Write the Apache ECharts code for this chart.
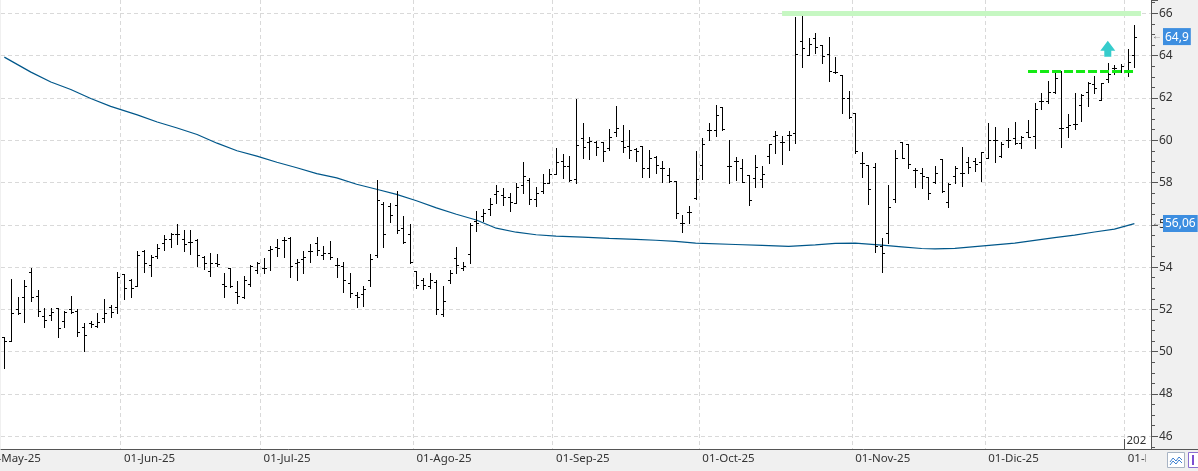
<!DOCTYPE html>
<html>
<head>
<meta charset="utf-8">
<title>Cotización diaria</title>
<script src="https://cdn.jsdelivr.net/npm/echarts@6.0.0/dist/echarts.min.js"></script>
<style>
  html, body { margin: 0; padding: 0; background: #f0f0f0; }
  #chart { width: 1198px; height: 471px; }
</style>
</head>
<body>
<div id="chart"></div>
<script type="text/javascript">
// sesiones: dias laborables desde el 7 de mayo, sin festivos de bolsa
var holidays = ['2025-12-25', '2025-12-26', '2026-01-01'];
var monthNames = ['Ene', 'Feb', 'Mar', 'Abr', 'May', 'Jun', 'Jul', 'Ago', 'Sep', 'Oct', 'Nov', 'Dic'];
var firstLabel = '01-May-25';   // mes anterior, cortado por el borde
var sessionCount = 173;         // 171 barras + 2 huecos al final

// barras OHLC (una por sesion)
var opens = [
  50.68, 50.49, 52.0, 52.57, 53.76, 52.64, 51.69, 51.74, 52.05, 51.44,
  52.0, 51.93, 51.15, 51.38, 51.22, 51.58, 52.13, 52.1, 53.66, 53.39,
  53.11, 54.78, 54.1, 54.53, 55.13, 55.32, 55.57, 55.32, 55.2, 55.29,
  54.5, 53.82, 54.18, 53.2, 53.95, 52.8, 52.6, 53.2, 53.87, 53.95,
  54.8, 54.94, 55.29, 55.37, 54.21, 54.37, 54.74, 55.16, 54.58, 54.69,
  54.1, 54.06, 53.24, 52.69, 52.73, 53.39, 54.58, 57.0, 56.9, 56.94,
  55.84, 55.57, 53.8, 53.39, 53.1, 53.3, 51.78, 53.4, 54.42, 53.95,
  54.62, 56.2, 56.4, 56.75, 57.47, 57.4, 57.3, 57.05, 57.9, 58.1,
  57.2, 57.6, 58.0, 58.4, 59.0, 58.78, 58.16, 60.1, 59.9, 59.9,
  59.9, 59.63, 60.37, 59.94, 59.71, 59.58, 59.74, 58.68, 59.2, 58.68,
  58.36, 58.08, 56.1, 56.62, 57.25, 58.84, 60.5, 60.5, 61.57, 58.8,
  59.0, 58.68, 58.36, 58.2, 58.16, 59.25, 60.2, 59.93, 60.24, 60.32,
  64.71, 64.03, 64.82, 64.5, 64.08, 63.24, 63.08, 61.98, 61.27, 58.9,
  58.82, 58.74, 55.0, 55.6, 57.2, 59.93, 59.82, 58.59, 58.43, 58.24,
  58.03, 59.09, 57.09, 58.3, 58.43, 58.98, 59.03, 58.98, 59.14, 60.01,
  59.25, 60.01, 60.09, 59.85, 60.4, 60.2, 61.87, 61.87, 62.29, 60.6,
  60.61, 60.75, 61.66, 62.29, 62.66, 61.9, 62.88, 63.4, 63.32, 63.29,
  64.03
];
var highs = [
  50.71, 53.43, 52.57, 53.39, 53.95, 52.92, 52.05, 52.05, 52.05, 51.94,
  52.64, 52.0, 51.38, 51.47, 51.82, 52.48, 52.21, 53.76, 53.66, 53.44,
  54.78, 54.81, 54.58, 55.08, 55.52, 55.6, 56.04, 55.76, 55.76, 55.32,
  54.53, 54.66, 54.61, 53.74, 53.95, 53.36, 53.6, 54.1, 54.26, 54.42,
  55.0, 55.31, 55.41, 55.41, 54.37, 54.74, 55.1, 55.41, 55.0, 55.24,
  54.45, 54.26, 53.74, 52.8, 53.11, 54.62, 58.1, 57.1, 57.02, 57.58,
  56.42, 56.04, 53.83, 53.47, 53.74, 53.39, 53.1, 53.86, 54.94, 54.26,
  56.1, 56.67, 56.73, 57.25, 57.88, 57.73, 57.49, 57.99, 58.99, 58.2,
  57.8, 58.4, 58.62, 59.62, 59.35, 59.25, 61.93, 60.81, 60.15, 59.94,
  59.9, 60.53, 61.64, 60.73, 60.5, 59.63, 59.74, 59.52, 59.26, 59.0,
  58.68, 58.08, 56.46, 56.89, 59.5, 60.1, 60.81, 61.68, 61.57, 59.99,
  59.2, 59.1, 58.36, 59.31, 58.79, 59.82, 60.45, 60.2, 60.45, 65.84,
  65.97, 64.82, 65.09, 64.5, 64.86, 63.92, 63.08, 62.34, 61.27, 59.45,
  58.82, 58.9, 55.4, 57.88, 59.56, 59.93, 59.82, 58.67, 58.67, 58.24,
  58.78, 59.09, 57.99, 58.78, 59.66, 59.22, 59.14, 59.46, 60.83, 60.61,
  59.93, 60.56, 60.87, 60.2, 60.95, 61.74, 62.21, 62.81, 63.19, 63.29,
  61.24, 62.25, 62.18, 62.77, 63.03, 62.69, 63.67, 63.56, 63.61, 64.3,
  65.45
];
var lows = [
  49.21, 50.49, 51.77, 51.42, 52.42, 51.71, 51.19, 51.5, 50.71, 51.15,
  51.85, 50.74, 50.05, 51.15, 51.19, 51.42, 51.63, 51.82, 52.48, 52.6,
  53.11, 53.79, 53.6, 54.45, 54.81, 54.97, 55.1, 54.74, 54.63, 54.06,
  53.9, 53.6, 54.06, 52.6, 53.05, 52.32, 52.52, 53.11, 53.74, 53.74,
  53.86, 54.53, 54.47, 53.55, 53.39, 53.74, 54.26, 54.58, 54.37, 54.37,
  53.55, 52.8, 52.6, 52.13, 52.16, 53.1, 54.5, 54.94, 56.11, 55.63,
  55.16, 54.2, 53.0, 52.95, 52.99, 51.78, 51.69, 53.23, 53.71, 53.86,
  54.21, 55.72, 56.2, 56.46, 57.05, 56.94, 56.67, 57.05, 57.52, 56.99,
  56.89, 57.52, 57.99, 58.4, 58.2, 58.09, 57.99, 59.18, 59.12, 59.28,
  59.04, 59.52, 60.18, 59.42, 59.15, 59.0, 58.25, 58.28, 58.47, 58.04,
  58.04, 56.3, 55.67, 56.07, 57.21, 58.16, 59.99, 60.21, 60.5, 58.0,
  58.12, 58.04, 56.94, 57.81, 57.81, 58.93, 59.41, 58.86, 59.56, 59.85,
  63.48, 64.03, 64.11, 63.63, 62.81, 63.19, 61.3, 61.03, 59.41, 58.24,
  56.98, 54.72, 53.78, 55.15, 57.09, 59.14, 58.67, 57.77, 57.72, 57.2,
  57.99, 57.56, 56.85, 57.99, 57.83, 58.43, 58.55, 58.08, 59.14, 58.98,
  59.22, 59.66, 59.82, 59.61, 60.13, 59.61, 61.46, 61.77, 62.25, 59.66,
  60.13, 60.51, 60.92, 61.62, 62.25, 61.9, 62.77, 63.13, 63.24, 63.03,
  63.48
];
var closes = [
  50.49, 51.82, 51.85, 53.11, 52.57, 51.93, 51.5, 51.86, 51.1, 51.9,
  51.9, 50.95, 50.78, 51.31, 51.42, 51.82, 51.9, 53.55, 53.0, 53.0,
  54.56, 54.18, 54.47, 54.89, 55.32, 55.57, 55.57, 55.1, 55.2, 54.58,
  54.18, 54.18, 54.15, 53.11, 53.11, 52.63, 53.39, 54.06, 54.18, 53.95,
  54.85, 54.9, 55.29, 54.06, 54.26, 54.47, 54.74, 54.81, 54.66, 54.47,
  54.1, 53.39, 52.76, 52.6, 52.95, 54.4, 57.18, 55.55, 56.47, 55.76,
  55.2, 54.25, 53.16, 53.15, 53.39, 52.0, 52.4, 53.74, 54.1, 54.05,
  56.0, 56.1, 56.54, 57.0, 57.6, 57.33, 57.1, 57.8, 58.31, 57.2,
  57.52, 57.99, 58.4, 58.99, 58.78, 58.1, 59.78, 59.67, 59.94, 59.67,
  59.47, 60.15, 60.58, 59.67, 59.52, 59.47, 58.68, 59.15, 58.84, 58.68,
  58.09, 56.57, 56.1, 56.62, 58.16, 59.83, 60.5, 61.21, 60.53, 58.8,
  59.0, 58.04, 57.17, 58.72, 58.41, 59.82, 60.25, 59.93, 60.24, 64.08,
  64.34, 64.55, 64.39, 63.98, 63.29, 63.24, 61.98, 61.08, 59.5, 58.9,
  57.67, 54.99, 54.68, 56.82, 59.14, 59.14, 58.87, 58.59, 58.3, 57.51,
  58.46, 57.61, 57.95, 58.67, 58.43, 58.74, 58.87, 59.46, 60.01, 60.01,
  59.82, 60.01, 59.88, 60.17, 60.17, 61.46, 61.87, 62.29, 62.92, 60.56,
  60.7, 60.75, 62.14, 62.69, 62.45, 62.69, 63.13, 63.4, 63.51, 63.71,
  64.9
];

var maPoints = [
  [0, 63.93], [4, 63.22], [7, 62.75], [10, 62.4], [13, 61.97], [16, 61.6],
  [20, 61.2], [23, 60.86], [26, 60.58], [29, 60.27], [32, 59.86], [35, 59.5],
  [38, 59.25], [41, 58.96], [44, 58.7], [47, 58.42], [50, 58.22], [53, 57.92],
  [56, 57.68], [59, 57.44], [62, 57.14], [65, 56.8], [68, 56.5], [71, 56.23],
  [74, 55.84], [77, 55.65], [80, 55.53], [83, 55.47], [87, 55.42], [91, 55.36],
  [95, 55.31], [98, 55.27], [101, 55.22], [104, 55.13], [110, 55.07], [114, 55.03],
  [118, 54.98], [122, 55.05], [125, 55.12], [128, 55.13], [132, 55.04], [135, 54.96],
  [138, 54.88], [140, 54.86], [143, 54.89], [146, 54.97], [149, 55.05], [152, 55.13],
  [155, 55.26], [158, 55.39], [161, 55.51], [164, 55.66], [167, 55.8], [170, 56.06]
];

// anotaciones: [barra inicio, barra fin, nivel]
var resistance = [117, 171, 66];
var breakout = [154, 170, 63.26];
var arrowAt = [166, 64.33];
var lastPrice = 64.9;
var lastMa = 56.06;

var dates = [];
var day = new Date(Date.UTC(2025, 4, 7));
while (dates.length < sessionCount) {
  var iso = day.toISOString().slice(0, 10);
  var wd = day.getUTCDay();
  if (wd !== 0 && wd !== 6 && holidays.indexOf(iso) < 0) dates.push(iso);
  day.setUTCDate(day.getUTCDate() + 1);
}

function monthStart(i) {
  return i > 0 && dates[i].slice(0, 7) !== dates[i - 1].slice(0, 7);
}
function monthLabel(s) {
  return '01-' + monthNames[+s.slice(5, 7) - 1] + '-' + s.slice(2, 4);
}
function fmtNum(v) {
  return String(v).replace('.', ',');
}

var bars = opens.map(function (o, i) {
  return [i, o, highs[i], lows[i], closes[i]];
});

function renderBar(params, api) {
  var c = api.value(0);
  var x = Math.round(api.coord([c, 0])[0]) + 0.5;
  var yo = Math.round(api.coord([c, api.value(1)])[1]) + 0.5;
  var yh = Math.round(api.coord([c, api.value(2)])[1]);
  var yl = Math.round(api.coord([c, api.value(3)])[1]) + 1;
  var yc = Math.round(api.coord([c, api.value(4)])[1]) + 0.5;
  var st = { stroke: '#000', lineWidth: 1 };
  return {
    type: 'group',
    children: [
      { type: 'line', shape: { x1: x, y1: yh, x2: x, y2: yl }, style: st },
      { type: 'line', shape: { x1: x - 2.5, y1: yo, x2: x - 0.5, y2: yo }, style: st },
      { type: 'line', shape: { x1: x + 0.5, y1: yc, x2: x + 2.5, y2: yc }, style: st }
    ]
  };
}

var labelFont = 'Noto Sans';
var gridLine = { color: '#d9d9d9', width: 1, type: [4, 3] };
var priceTag = {
  a: { color: '#666', fontSize: 10, padding: [0, 1, 0, 0] },
  b: { color: '#fff', backgroundColor: '#3d8ee0', fontFamily: labelFont, fontSize: 12, padding: [3, 2, 2, 2] }
};

var chart = echarts.init(document.getElementById('chart'));
var option = {
  animation: false,
  backgroundColor: '#f0f0f0',
  grid: {
    left: 1, right: 47, top: 0, bottom: 22,
    outerBoundsMode: 'none',
    show: true, backgroundColor: '#fff', borderWidth: 0
  },
  xAxis: {
    type: 'category',
    data: dates,
    boundaryGap: true,
    axisLine: { lineStyle: { color: '#555' } },
    axisTick: { interval: monthStart, length: 8, lineStyle: { color: '#555' } },
    axisLabel: {
      interval: monthStart,
      formatter: monthLabel,
      align: 'left',
      margin: 4,
      hideOverlap: false,
      fontFamily: labelFont, fontSize: 11.5, color: '#333'
    },
    splitLine: { show: true, interval: monthStart, lineStyle: gridLine }
  },
  yAxis: {
    type: 'value',
    position: 'right',
    min: 45.4,
    max: 66.63,
    splitNumber: 10,
    minInterval: 2,
    maxInterval: 2,
    axisLine: { show: true, lineStyle: { color: '#555' } },
    axisTick: { show: true, length: 7, lineStyle: { color: '#555' } },
    minorTick: { show: true, splitNumber: 4, length: 4, lineStyle: { color: '#555' } },
    axisLabel: {
      margin: 8,
      formatter: function (v) { return Math.abs(v % 2) < 1e-6 ? String(v) : ''; },
      fontFamily: labelFont, fontSize: 12, color: '#333'
    },
    splitLine: { show: true, showMinLine: false, showMaxLine: false, lineStyle: gridLine }
  },
  series: [
    {
      name: 'OHLC',
      type: 'custom',
      renderItem: renderBar,
      data: bars,
      encode: { x: 0, y: [1, 2, 3, 4] },
      z: 3
    },
    {
      name: 'Media',
      type: 'line',
      data: maPoints,
      showSymbol: false,
      lineStyle: { color: '#00578a', width: 1.2 },
      z: 2,
      markLine: {
        silent: true,
        symbol: ['none', 'none'],
        animation: false,
        data: [
          [
            { coord: [dates[resistance[0]], resistance[2]],
              lineStyle: { color: '#c6f7c2', width: 5, type: 'solid' }, label: { show: false } },
            { coord: [dates[resistance[1]], resistance[2]] }
          ],
          [
            { coord: [dates[breakout[0]], breakout[2]],
              lineStyle: { color: '#14ea14', width: 3, type: [9, 3] }, label: { show: false } },
            { coord: [dates[breakout[1]], breakout[2]] }
          ],
          {
            yAxis: lastPrice,
            lineStyle: { color: 'rgba(0,0,0,0)', width: 1 },
            label: { show: true, position: 'end', distance: 1,
              formatter: '{a|←}{b|' + fmtNum(lastPrice) + '}', rich: priceTag }
          },
          {
            yAxis: lastMa,
            lineStyle: { color: 'rgba(0,0,0,0)', width: 1 },
            label: { show: true, position: 'end', distance: 1,
              formatter: '{a|←}{b|' + fmtNum(lastMa) + '}', rich: priceTag }
          }
        ]
      },
      markPoint: {
        silent: true,
        animation: false,
        data: [{
          coord: [dates[arrowAt[0]], arrowAt[1]],
          symbol: 'path://M7.5,0 L15,10 L11,10 L11,16 L4,16 L4,10 L0,10 Z',
          symbolSize: [15, 16],
          itemStyle: { color: '#36cccc' },
          label: { show: false }
        }]
      }
    }
  ]
};
chart.setOption(option);

// etiqueta del mes cortada, rotulo del año y pie de la esquina derecha
var bandW = chart.convertToPixel({ xAxisIndex: 0 }, dates[1]) - chart.convertToPixel({ xAxisIndex: 0 }, dates[0]);
var x0 = chart.convertToPixel({ xAxisIndex: 0 }, dates[0]);
var janIdx = dates.findIndex(function (s) { return s.slice(0, 7) === '2026-01'; });
var janX = Math.round(chart.convertToPixel({ xAxisIndex: 0 }, dates[janIdx]) - bandW / 2) + 0.5;
var axisY = chart.convertToPixel({ yAxisIndex: 0 }, 45.4);
chart.setOption({
  graphic: [
    { type: 'text', z: 10, x: x0 - 3 * bandW, y: axisY + 4,
      style: { text: firstLabel, fill: '#333', font: '11.5px "Noto Sans"', textVerticalAlign: 'top' } },
    { type: 'line', z: 10, shape: { x1: janX, y1: axisY - 10, x2: janX, y2: axisY }, style: { stroke: '#555', lineWidth: 1 } },
    { type: 'text', z: 10, x: janX + 2, y: axisY - 14, style: { text: '202', fill: '#333', font: '11.5px "Noto Sans"' } },
    { type: 'rect', z: 20, shape: { x: 1146, y: axisY + 1, width: 52, height: 471 - axisY }, style: { fill: '#f0f0f0' } },
    { type: 'line', z: 21, shape: { x1: 1146, y1: axisY + 0.5, x2: 1198, y2: axisY + 0.5 }, style: { stroke: '#555', lineWidth: 1 } },
    { type: 'rect', z: 21, shape: { x: 1167.5, y: 452.5, width: 17, height: 15 }, style: { fill: '#fff', stroke: '#a8b4c4', lineWidth: 1 } },
    { type: 'polyline', z: 22, shape: { points: [[1170, 462], [1173, 458], [1176, 461], [1179, 457], [1182, 460]] }, style: { stroke: '#3d7fd0', lineWidth: 1, fill: null } },
    { type: 'polyline', z: 22, shape: { points: [[1170, 465], [1173, 461], [1176, 464], [1179, 460], [1182, 463]] }, style: { stroke: '#3d7fd0', lineWidth: 1, fill: null } },
    { type: 'rect', z: 21, shape: { x: 1188.5, y: 452.5, width: 12, height: 15 }, style: { fill: '#fff', stroke: '#8a6fd0', lineWidth: 1 } },
    { type: 'rect', z: 22, shape: { x: 1192, y: 455, width: 2, height: 10 }, style: { fill: '#7b4fd0' } }
  ]
});
</script>
</body>
</html>
